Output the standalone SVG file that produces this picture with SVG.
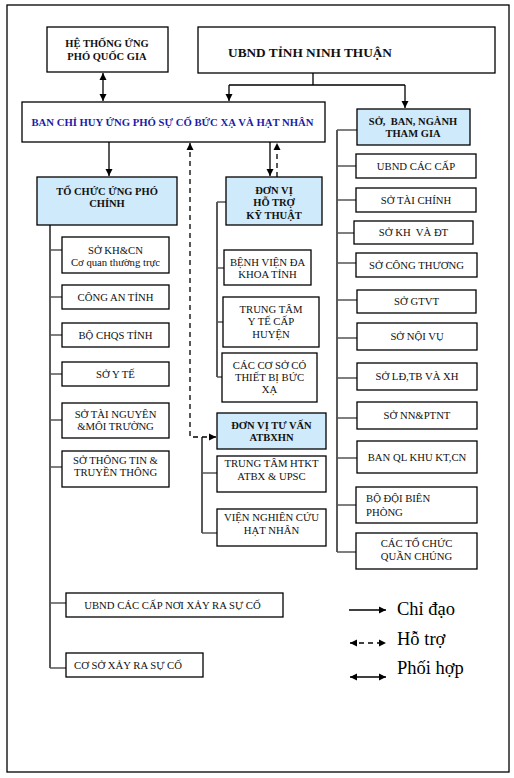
<svg xmlns="http://www.w3.org/2000/svg" width="514" height="778" viewBox="0 0 514 778">
<defs>
<marker id="arr" markerUnits="userSpaceOnUse" markerWidth="8" markerHeight="8" refX="7" refY="4" orient="auto-start-reverse"><path d="M0,0.5 L7,4 L0,7.5 z" fill="#000"/></marker>
<style>
.box{fill:#fff;stroke:#000;stroke-width:1.3}
.hl{fill:#cfeafa;stroke:#000;stroke-width:1.3}
.t{font-family:"Liberation Serif","Times New Roman",serif;font-size:10.7px;fill:#111;text-anchor:middle}
.b{font-weight:bold;font-size:10.5px}
.l{text-anchor:start}
.ln{fill:none;stroke:#000;stroke-width:1.3}
.br{fill:none;stroke:#555;stroke-width:1.3}
.da{fill:none;stroke:#000;stroke-width:1.3;stroke-dasharray:5,4}
.lg{font-family:"Liberation Serif","Times New Roman",serif;font-size:18.5px;fill:#000}
</style>
</defs>
<rect x="7" y="5" width="502" height="767" fill="#fff" stroke="#000" stroke-width="1.3"/>

<g id="connectors">
<path class="ln" d="M313,73 V85 M229,85 H405"/>
<path class="ln" d="M229,85 V101" marker-end="url(#arr)"/>
<path class="ln" d="M405,85 V108" marker-end="url(#arr)"/>
<path class="ln" d="M103,73 V101" marker-start="url(#arr)" marker-end="url(#arr)"/>
<path class="ln" d="M109,142 V176" marker-end="url(#arr)"/>
<path class="ln" d="M270,142 V176" marker-end="url(#arr)"/>
<path class="da" d="M277,177 V143" marker-end="url(#arr)"/>
<path class="da" d="M190,143 V437 H216" marker-start="url(#arr)" marker-end="url(#arr)"/>
<path class="ln" d="M50,225 V668"/>
<path class="br" d="M50,250 H62 M50,297 H62 M50,335 H62 M50,374 H62 M50,420 H62 M50,467 H62 M50,603 H66 M50,668 H66"/>
<path class="ln" d="M217,202 V377"/>
<path class="br" d="M217,202 H226 M217,268 H224 M217,322 H223 M217,377 H222"/>
<path class="ln" d="M202,437 V533"/>
<path class="br" d="M202,473 H217 M202,533 H217"/>
<path class="ln" d="M337,130 V552"/>
<path class="br" d="M337,130 H357 M337,166 H356 M337,200 H356 M337,233 H354 M337,263 H356 M337,300 H357 M337,338 H357 M337,378 H357 M337,418 H357 M337,458 H357 M337,505 H356 M337,552 H356"/>
</g>

<g id="he-thong"><rect class="box" x="47" y="27" width="121" height="45"/>
<text class="t b" x="107" y="47">HỆ THỐNG ỨNG</text><text class="t b" x="107" y="60">PHÓ QUỐC GIA</text></g>
<g id="ubnd-tinh"><rect class="box" x="198" y="27" width="297" height="46"/>
<text class="t b" x="310" y="56.5" style="font-size:13.3px">UBND TỈNH NINH THUẬN</text></g>
<g id="ban-chi-huy"><rect class="box" x="22" y="102" width="303" height="40"/>
<text class="t b" x="172.5" y="125.5" style="font-size:10.7px;fill:#1c1ca8">BAN CHỈ HUY ỨNG PHÓ SỰ CỐ BỨC XẠ VÀ HẠT NHÂN</text></g>
<g id="so-ban-nganh"><rect class="hl" x="357" y="109" width="113" height="36"/>
<text class="t b" x="413" y="125" style="white-space:pre">SỞ,  BAN, NGÀNH</text><text class="t b" x="413" y="137">THAM GIA</text></g>

<g id="to-chuc"><rect class="hl" x="37" y="177" width="140" height="48"/>
<text class="t b" x="107" y="195">TỔ CHỨC ỨNG PHÓ</text><text class="t b" x="107" y="207">CHÍNH</text></g>
<g id="so-khcn"><rect class="box" x="62" y="237" width="107" height="36"/>
<text class="t" x="115.5" y="254">SỞ KH&amp;CN</text><text class="t" x="115.5" y="266">Cơ quan thường trực</text></g>
<g id="cong-an"><rect class="box" x="62" y="285" width="107" height="24"/><text class="t" x="115.5" y="300.5">CÔNG AN TỈNH</text></g>
<g id="bo-chqs"><rect class="box" x="62" y="323" width="107" height="24"/><text class="t" x="115.5" y="338.5">BỘ CHQS TỈNH</text></g>
<g id="so-yte"><rect class="box" x="62" y="362" width="107" height="24"/><text class="t" x="115.5" y="377.5">SỞ Y TẾ</text></g>
<g id="so-tnmt"><rect class="box" x="62" y="403" width="107" height="35"/>
<text class="t" x="115.5" y="417.5">SỞ TÀI NGUYÊN</text><text class="t" x="115.5" y="429.5">&amp;MÔI TRƯỜNG</text></g>
<g id="so-tttt"><rect class="box" x="62" y="451" width="107" height="36"/>
<text class="t" x="115.5" y="463.5">SỞ THÔNG TIN &amp;</text><text class="t" x="115.5" y="475.5">TRUYỀN THÔNG</text></g>
<g id="ubnd-noi"><rect class="box" x="66" y="593" width="217" height="24"/><text class="t" x="172.5" y="608.5">UBND CÁC CẤP NƠI XẢY RA SỰ CỐ</text></g>
<g id="co-so"><rect class="box" x="66" y="653" width="137" height="24"/><text class="t l" x="74" y="668.5">CƠ SỞ XẢY RA SỰ CỐ</text></g>

<g id="don-vi-ho-tro"><rect class="hl" x="226" y="177" width="96" height="48"/>
<text class="t b" x="274" y="193.5">ĐƠN VỊ</text><text class="t b" x="274" y="205.5">HỖ TRỢ</text><text class="t b" x="274" y="218.5">KỸ THUẬT</text></g>
<g id="benh-vien"><rect class="box" x="224" y="250" width="87" height="35"/>
<text class="t" x="267.5" y="266">BỆNH VIỆN ĐA</text><text class="t" x="267.5" y="277.5">KHOA TỈNH</text></g>
<g id="trung-tam-yte"><rect class="box" x="223" y="297" width="96" height="50"/>
<text class="t" x="271" y="312.5">TRUNG TÂM</text><text class="t" x="271" y="325">Y TẾ CẤP</text><text class="t" x="271" y="337.5">HUYỆN</text></g>
<g id="cac-co-so"><rect class="box" x="222" y="353" width="95" height="49"/>
<text class="t" x="269.5" y="368.5">CÁC CƠ SỞ CÓ</text><text class="t" x="269.5" y="380.5">THIẾT BỊ BỨC</text><text class="t" x="269.5" y="392.5">XẠ</text></g>
<g id="don-vi-tu-van"><rect class="hl" x="217" y="413" width="109" height="36"/>
<text class="t b" x="271.5" y="428.5">ĐƠN VỊ TƯ VẤN</text><text class="t b" x="271.5" y="440.5">ATBXHN</text></g>
<g id="trung-tam-htkt"><rect class="box" x="217" y="456" width="109" height="36"/>
<text class="t" x="271.5" y="466.5">TRUNG TÂM HTKT</text><text class="t" x="271.5" y="480">ATBX &amp; UPSC</text></g>
<g id="vien"><rect class="box" x="217" y="509" width="109" height="37"/>
<text class="t" x="271.5" y="521">VIỆN NGHIÊN CỨU</text><text class="t" x="271.5" y="533.5">HẠT NHÂN</text></g>

<g id="ubnd-cac-cap"><rect class="box" x="356" y="154" width="120" height="24"/><text class="t" x="416" y="169.5">UBND CÁC CẤP</text></g>
<g id="so-tai-chinh"><rect class="box" x="356" y="188" width="120" height="24"/><text class="t" x="416" y="203.5">SỞ TÀI CHÍNH</text></g>
<g id="so-khdt"><rect class="box" x="354" y="221" width="119" height="23"/><text class="t" x="413.5" y="236" style="white-space:pre">SỞ KH  VÀ ĐT</text></g>
<g id="so-cong-thuong"><rect class="box" x="356" y="253" width="121" height="24"/><text class="t" x="416.5" y="268.5">SỞ CÔNG THƯƠNG</text></g>
<g id="so-gtvt"><rect class="box" x="357" y="290" width="119" height="23"/><text class="t" x="416.5" y="305">SỞ GTVT</text></g>
<g id="so-noi-vu"><rect class="box" x="357" y="323" width="120" height="27"/><text class="t" x="417" y="340">SỞ NỘI VỤ</text></g>
<g id="so-ldtbxh"><rect class="box" x="357" y="363" width="120" height="27"/><text class="t" x="417" y="380">SỞ LĐ,TB VÀ XH</text></g>
<g id="so-nnptnt"><rect class="box" x="357" y="402" width="120" height="27"/><text class="t" x="417" y="419">SỞ NN&amp;PTNT</text></g>
<g id="ban-ql"><rect class="box" x="357" y="441" width="120" height="32"/><text class="t" x="417" y="460.5">BAN QL KHU KT,CN</text></g>
<g id="bo-doi"><rect class="box" x="356" y="487" width="121" height="36"/>
<text class="t l" x="366" y="501.5">BỘ ĐỘI BIÊN</text><text class="t l" x="366" y="515.5">PHÒNG</text></g>
<g id="cac-to-chuc"><rect class="box" x="356" y="533" width="121" height="36"/>
<text class="t" x="416.5" y="546.5">CÁC TỔ CHỨC</text><text class="t" x="416.5" y="559.5">QUẦN CHÚNG</text></g>

<g id="legend">
<path class="ln" d="M349,610 H386" marker-end="url(#arr)"/>
<path class="da" d="M350,643 H386" stroke-dasharray="4,4" marker-start="url(#arr)" marker-end="url(#arr)"/>
<path class="ln" d="M350,677 H386" marker-start="url(#arr)" marker-end="url(#arr)"/>
<text class="lg" x="397" y="615">Chỉ đạo</text>
<text class="lg" x="397" y="645">Hỗ trợ</text>
<text class="lg" x="397" y="674">Phối hợp</text>
</g>
</svg>
